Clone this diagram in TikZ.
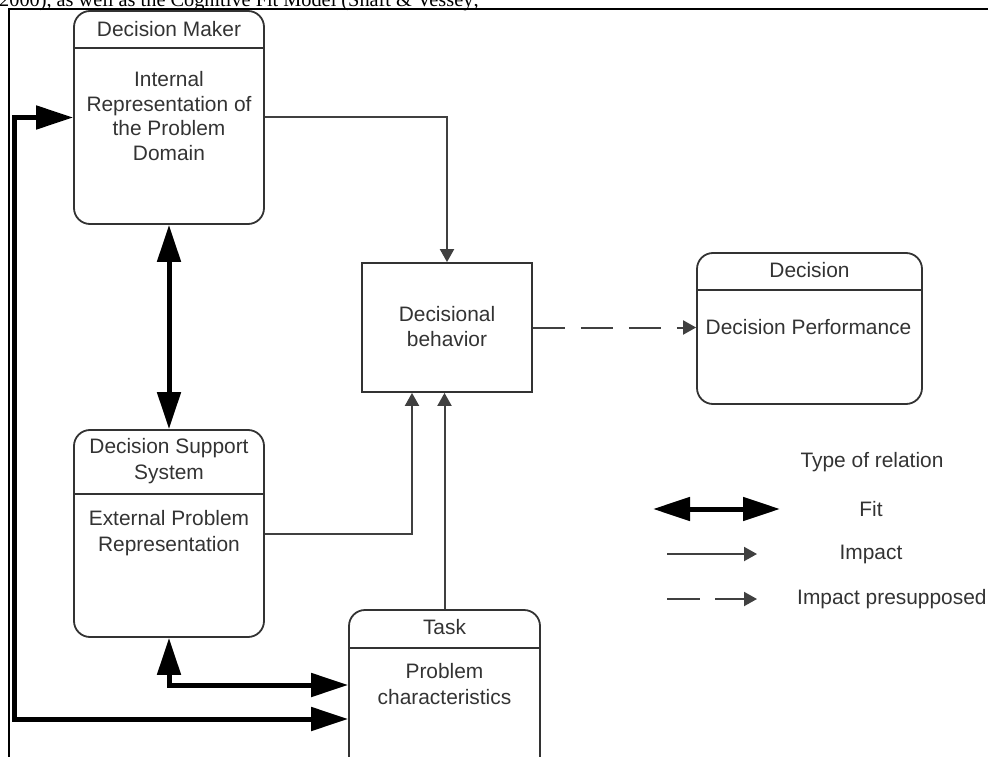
\documentclass[tikz,border=0pt]{standalone}
\usepackage{fontspec}
\setmainfont{Liberation Sans}
\newfontfamily\serifft{Liberation Serif}
\usetikzlibrary{arrows.meta,calc}
\definecolor{ink}{HTML}{333333}
\definecolor{lineg}{HTML}{404040}
\begin{document}
\begin{tikzpicture}[x=1pt,y=-1pt,
  box/.style={draw=ink, line width=1.8pt, rounded corners=16pt, inner sep=0pt},
  sqbox/.style={draw=ink, line width=1.8pt, inner sep=0pt},
  txt/.style={text=ink, font=\fontsize{20.9}{24.5}\selectfont, align=center, inner sep=0pt},
  divider/.style={draw=ink, line width=1.8pt},
  fitarrow/.style={line width=5pt, {Triangle[length=37pt,width=23pt]}-{Triangle[length=37pt,width=23pt]}},
  impact/.style={draw=lineg, line width=2pt, -{Triangle[length=13pt,width=14pt]}},
  presup/.style={impact, dash pattern=on 32pt off 16pt},
]
\useasboundingbox (0,0) rectangle (988,757);
\clip (0,0) rectangle (988,757);

% cropped caption line and frame
\node[anchor=base west, inner sep=0pt, font=\serifft\fontsize{20.3}{24}\selectfont] (cite) at (-1,6.5) {2000), as well as the Cognitive Fit Model (Shaft \& Vessey;};
\draw[line width=1.5pt] (9,800) -- (9,9) -- (1000,9);

% Decision Maker
\node[box, minimum width=190pt, minimum height=213pt] (dm) at (169,117.5) {};
\draw[divider] (dm.west |- 0,48) -- (dm.east |- 0,48);
\node[txt] (dmh) at (169,29) {Decision Maker};
\node[txt] (dmb) at (169,116) {Internal\\Representation of\\the Problem\\Domain};

% Decision Support System
\node[box, minimum width=190pt, minimum height=207pt] (dss) at (169,533.5) {};
\draw[divider] (dss.west |- 0,494) -- (dss.east |- 0,494);
\node[txt, font=\fontsize{20.9}{26}\selectfont] (dssh) at (169,461) {Decision Support\\System};
\node[txt, font=\fontsize{20.9}{26}\selectfont] (dssb) at (169,533) {External Problem\\Representation};

% Task
\node[box, minimum width=191pt, minimum height=180pt] (task) at (444.5,700) {};
\draw[divider] (task.west |- 0,648) -- (task.east |- 0,648);
\node[txt] (taskh) at (444.5,627) {Task};
\node[txt, font=\fontsize{20.9}{26}\selectfont] (taskb) at (444.5,684) {Problem\\characteristics};

% Decisional behavior
\node[sqbox, minimum width=170pt, minimum height=129pt] (dcs) at (447,327.5) {};
\node[txt] (dcst) at (447,326.5) {Decisional\\behavior};

% Decision
\node[box, minimum width=225pt, minimum height=151pt] (dec) at (809.5,328.5) {};
\draw[divider] (dec.west |- 0,290) -- (dec.east |- 0,290);
\node[txt] (dech) at (809.5,270) {Decision};
\node[txt] (decb) at (808.5,327) {Decision Performance};

% impact connectors
\draw[impact] (dm.east) -| (dcs.north);
\draw[impact] (dss.east) -| ($(dcs.south)+(-35,0)$);
\draw[impact] (task.north) -- (task.north |- dcs.south);
\draw[presup] (dcs.east) -- (dcs.east -| dec.west);

% fit connectors
\draw[fitarrow] (dm.south) -- (dss.north);
\draw[fitarrow] (dss.south) |- ([yshift=15pt]task.west);
\coordinate (loopc) at (14,719);
\draw[fitarrow] ([yshift=-19pt]task.west) -- (loopc) |- (dm.west);

% legend
\node[txt] (lgt) at (872,462) {Type of relation};
\coordinate (fa) at (653,509);
\coordinate (fb) at (780,509);
\draw[fitarrow] (fa) -- (fb);
\node[txt] (lgfit) at (871,509) {Fit};
\coordinate (ia) at (667,554);
\coordinate (ib) at (757,554);
\draw[impact] (ia) -- (ib);
\node[txt] (lgimp) at (871,554) {Impact};
\coordinate (pa) at (667,599);
\coordinate (pb) at (757,599);
\draw[impact, dash pattern=on 33pt off 15pt] (pa) -- (pb);
\node[txt, anchor=west] (lgpre) at (797,599) {Impact presupposed};
\end{tikzpicture}
\end{document}
